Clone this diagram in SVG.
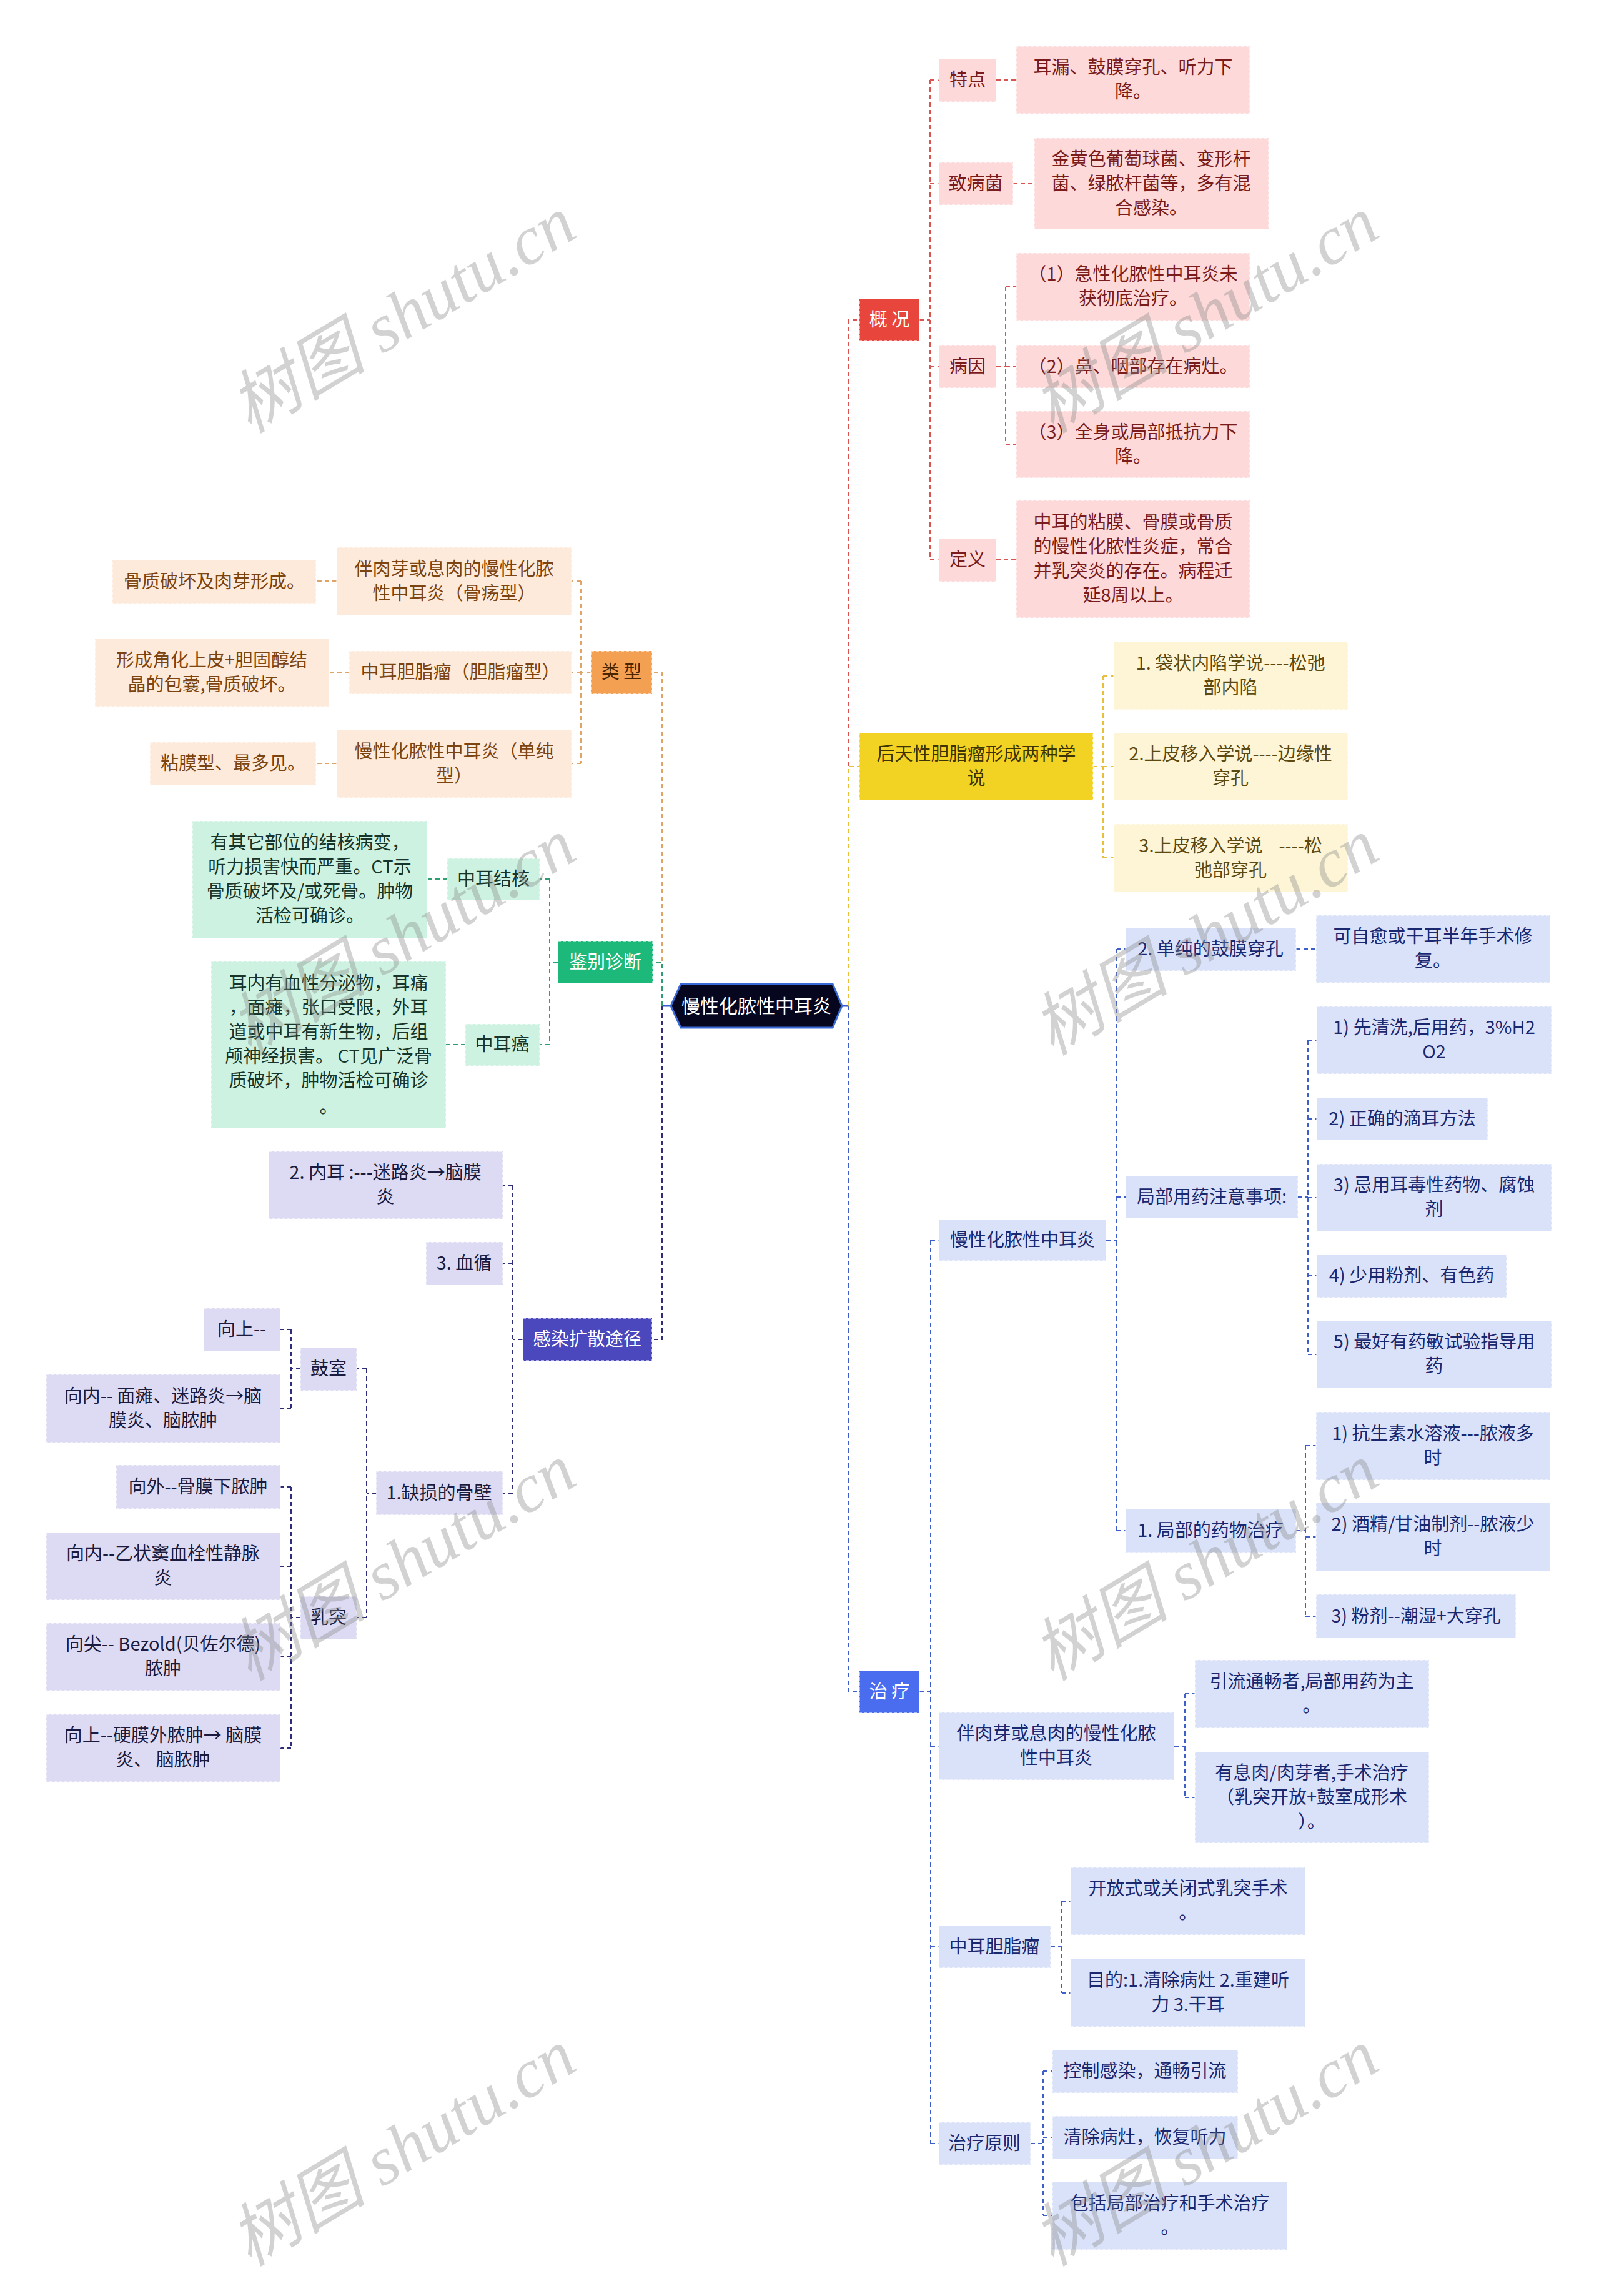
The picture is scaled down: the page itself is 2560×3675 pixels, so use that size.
<svg xmlns="http://www.w3.org/2000/svg" width="2560" height="3675" viewBox="0 0 2560 3675">
<style>
text{font-family:"Noto Sans CJK SC","Noto Sans",sans-serif;font-size:29px;text-anchor:middle}
.c{fill:none;stroke-width:2;stroke-dasharray:7 5}
.cr{stroke:#d9534f}.cy{stroke:#e8bf3a}.cb{stroke:#3f5fc8}.co{stroke:#e0a466}.cg{stroke:#2e9e72}.cn{stroke:#2d2d7a}
.solid{fill:none;stroke:#3a5ad0;stroke-width:3}
rect{stroke:#ffffff;stroke-opacity:.55;stroke-width:2;stroke-dasharray:5 3}
.fr{fill:#fdd9d9}.tr{fill:#7a1c1c}
.fy{fill:#fdf5d6}.ty{fill:#5c4a12}
.fb{fill:#dae2fa}.tb{fill:#1a2870}
.fo{fill:#fdeadb}.to{fill:#7c4410}
.fg{fill:#cdf2e1}.tg{fill:#17352a}
.fp{fill:#dcdbf3}.tp{fill:#1b1b40}
.tw{fill:#ffffff}
.wm{font-family:"Liberation Serif","Noto Sans CJK SC",serif;font-size:110px;font-style:italic;fill:#888;fill-opacity:.38;text-anchor:middle}
</style>
<rect x="0" y="0" width="2560" height="3675" fill="#ffffff" stroke="none"/>

<g id="connectors">
<path class="solid" d="M1348,1610 H1359 M1074,1610 H1060"/>
<path class="c cr" d="M1359,1610 V512 H1376"/>
<path class="c cr" d="M1472,512 H1489 M1489,128 V896 M1489,128 H1503 M1489,294 H1503 M1489,587 H1503 M1489,896 H1503"/>
<path class="c cr" d="M1595,128 H1627 M1622,294 H1656 M1595,896 H1627"/>
<path class="c cr" d="M1595,587 H1610 M1610,459 V711 M1610,459 H1627 M1610,587 H1627 M1610,711 H1627"/>
<path class="c cy" d="M1359,1610 V1227 H1376"/>
<path class="c cy" d="M1750,1227 H1766 M1766,1082 V1373 M1766,1082 H1783 M1766,1227 H1783 M1766,1373 H1783"/>
<path class="c cb" d="M1359,1610 V2708 H1376"/>
<path class="c cb" d="M1472,2708 H1490 M1490,1985 V3431 M1490,1985 H1503 M1490,2795 H1503 M1490,3116 H1503 M1490,3431 H1503"/>
<path class="c cb" d="M1771,1985 H1788 M1788,1519 V2450 M1788,1519 H1802 M1788,1916 H1802 M1788,2450 H1802"/>
<path class="c cb" d="M2075,1519 H2107"/>
<path class="c cb" d="M2078,1916 H2094 M2094,1665 V2168 M2094,1665 H2108 M2094,1791 H2108 M2094,1917 H2108 M2094,2042 H2108 M2094,2168 H2108"/>
<path class="c cb" d="M2075,2450 H2090 M2090,2314 V2587 M2090,2314 H2107 M2090,2460 H2107 M2090,2587 H2107"/>
<path class="c cb" d="M1880,2795 H1897 M1897,2711 V2877 M1897,2711 H1913 M1897,2877 H1913"/>
<path class="c cb" d="M1682,3116 H1700 M1700,3043 V3190 M1700,3043 H1714 M1700,3190 H1714"/>
<path class="c cb" d="M1650,3431 H1670 M1670,3315 V3546 M1670,3315 H1685 M1670,3421 H1685 M1670,3546 H1685"/>
<path class="c co" d="M1060,1610 V1076 H1044"/>
<path class="c co" d="M946,1076 H930 M930,930 V1222 M930,930 H915 M930,1076 H915 M930,1222 H915"/>
<path class="c co" d="M539,930 H506 M559,1076 H527 M539,1222 H506"/>
<path class="c cg" d="M1060,1610 V1540 H1045"/>
<path class="c cg" d="M893,1540 H880 M880,1407 V1672 M880,1407 H864 M880,1672 H864"/>
<path class="c cg" d="M716,1407 H684 M745,1672 H714"/>
<path class="c cn" d="M1060,1610 V2144 H1044"/>
<path class="c cn" d="M837,2144 H821 M821,1897 V2390 M821,1897 H805 M821,2022 H805 M821,2390 H805"/>
<path class="c cn" d="M602,2390 H587 M587,2191 V2589 M587,2191 H571 M587,2589 H571"/>
<path class="c cn" d="M481,2191 H466 M466,2128 V2254 M466,2128 H449 M466,2254 H449"/>
<path class="c cn" d="M481,2589 H466 M466,2380 V2798 M466,2380 H449 M466,2507 H449 M466,2652 H449 M466,2798 H449"/>
</g>

<g id="root">
<polygon points="1074,1610 1090,1575 1333,1575 1348,1610 1333,1645 1090,1645" fill="#06061e" stroke="#3a6ad8" stroke-width="3"/>
<text class="tw" x="1211" y="1621" style="font-size:30px">慢性化脓性中耳炎</text>
</g>

<g id="gaikuang"><rect x="1376" y="478" width="96" height="68" fill="#e8453c"/><text class="tw" x="1424" y="522">概 况</text></g>
<g id="tedian"><rect class="fr" x="1503" y="94" width="92" height="69"/><text class="tr" x="1549" y="138">特点</text></g>
<g id="erlou"><rect class="fr" x="1627" y="74" width="374" height="108"/><text class="tr" x="1814" y="118"><tspan x="1814">耳漏、鼓膜穿孔、听力下</tspan><tspan x="1814" dy="39">降。</tspan></text></g>
<g id="zhibingjun"><rect class="fr" x="1503" y="260" width="119" height="68"/><text class="tr" x="1562" y="304">致病菌</text></g>
<g id="jinhuang"><rect class="fr" x="1656" y="221" width="375" height="146"/><text class="tr" x="1843" y="265"><tspan x="1843">金黄色葡萄球菌、变形杆</tspan><tspan x="1843" dy="39">菌、绿脓杆菌等，多有混</tspan><tspan x="1843" dy="39">合感染。</tspan></text></g>
<g id="bingyin"><rect class="fr" x="1503" y="553" width="92" height="68"/><text class="tr" x="1549" y="597">病因</text></g>
<g id="by1"><rect class="fr" x="1627" y="405" width="374" height="108"/><text class="tr" x="1814" y="449"><tspan x="1814">（1）急性化脓性中耳炎未</tspan><tspan x="1814" dy="39">获彻底治疗。</tspan></text></g>
<g id="by2"><rect class="fr" x="1627" y="553" width="374" height="68"/><text class="tr" x="1814" y="597">（2）鼻、咽部存在病灶。</text></g>
<g id="by3"><rect class="fr" x="1627" y="658" width="374" height="107"/><text class="tr" x="1814" y="702"><tspan x="1814">（3）全身或局部抵抗力下</tspan><tspan x="1814" dy="39">降。</tspan></text></g>
<g id="dingyi"><rect class="fr" x="1503" y="862" width="92" height="69"/><text class="tr" x="1549" y="906">定义</text></g>
<g id="dingyi-text"><rect class="fr" x="1627" y="801" width="374" height="188"/><text class="tr" x="1814" y="846"><tspan x="1814">中耳的粘膜、骨膜或骨质</tspan><tspan x="1814" dy="39">的慢性化脓性炎症，常合</tspan><tspan x="1814" dy="39">并乳突炎的存在。病程迁</tspan><tspan x="1814" dy="39">延8周以上。</tspan></text></g>

<g id="houtian"><rect x="1376" y="1173" width="374" height="108" fill="#f2d223"/><text x="1563" y="1217" fill="#3d3305"><tspan x="1563">后天性胆脂瘤形成两种学</tspan><tspan x="1563" dy="39">说</tspan></text></g>
<g id="xs1"><rect class="fy" x="1783" y="1027" width="375" height="109"/><text class="ty" x="1970" y="1072"><tspan x="1970">1. 袋状内陷学说----松弛</tspan><tspan x="1970" dy="39">部内陷</tspan></text></g>
<g id="xs2"><rect class="fy" x="1783" y="1173" width="375" height="108"/><text class="ty" x="1970" y="1217"><tspan x="1970">2.上皮移入学说----边缘性</tspan><tspan x="1970" dy="39">穿孔</tspan></text></g>
<g id="xs3"><rect class="fy" x="1783" y="1319" width="375" height="109"/><text class="ty" x="1970" y="1364" style="white-space:pre"><tspan x="1970">3.上皮移入学说    ----松</tspan><tspan x="1970" dy="39">弛部穿孔</tspan></text></g>

<g id="zhiliao"><rect x="1376" y="2674" width="96" height="68" fill="#4a6df0"/><text class="tw" x="1424" y="2718">治 疗</text></g>
<g id="cs"><rect class="fb" x="1503" y="1952" width="268" height="66"/><text class="tb" x="1637" y="1995">慢性化脓性中耳炎</text></g>
<g id="dc"><rect class="fb" x="1802" y="1485" width="273" height="69"/><text class="tb" x="1938" y="1529">2. 单纯的鼓膜穿孔</text></g>
<g id="dc1"><rect class="fb" x="2107" y="1465" width="375" height="108"/><text class="tb" x="2294" y="1509"><tspan x="2294">可自愈或干耳半年手术修</tspan><tspan x="2294" dy="39">复。</tspan></text></g>
<g id="jb"><rect class="fb" x="1802" y="1882" width="276" height="68"/><text class="tb" x="1940" y="1926">局部用药注意事项:</text></g>
<g id="j1"><rect class="fb" x="2108" y="1611" width="376" height="108"/><text class="tb" x="2296" y="1655"><tspan x="2296">1) 先清洗,后用药，3%H2</tspan><tspan x="2296" dy="39">O2</tspan></text></g>
<g id="j2"><rect class="fb" x="2108" y="1757" width="274" height="68"/><text class="tb" x="2245" y="1801">2) 正确的滴耳方法</text></g>
<g id="j3"><rect class="fb" x="2108" y="1863" width="376" height="108"/><text class="tb" x="2296" y="1907"><tspan x="2296">3) 忌用耳毒性药物、腐蚀</tspan><tspan x="2296" dy="39">剂</tspan></text></g>
<g id="j4"><rect class="fb" x="2108" y="2008" width="304" height="69"/><text class="tb" x="2260" y="2052">4) 少用粉剂、有色药</text></g>
<g id="j5"><rect class="fb" x="2108" y="2114" width="376" height="108"/><text class="tb" x="2296" y="2158"><tspan x="2296">5) 最好有药敏试验指导用</tspan><tspan x="2296" dy="39">药</tspan></text></g>
<g id="yw"><rect class="fb" x="1802" y="2415" width="273" height="70"/><text class="tb" x="1938" y="2460">1. 局部的药物治疗</text></g>
<g id="yw1"><rect class="fb" x="2107" y="2260" width="375" height="109"/><text class="tb" x="2294" y="2305"><tspan x="2294">1) 抗生素水溶液---脓液多</tspan><tspan x="2294" dy="39">时</tspan></text></g>
<g id="yw2"><rect class="fb" x="2107" y="2405" width="375" height="110"/><text class="tb" x="2294" y="2450"><tspan x="2294">2) 酒精/甘油制剂--脓液少</tspan><tspan x="2294" dy="39">时</tspan></text></g>
<g id="yw3"><rect class="fb" x="2107" y="2552" width="320" height="70"/><text class="tb" x="2267" y="2597">3) 粉剂--潮湿+大穿孔</text></g>
<g id="br"><rect class="fb" x="1503" y="2741" width="377" height="108"/><text class="tb" x="1691" y="2785"><tspan x="1691">伴肉芽或息肉的慢性化脓</tspan><tspan x="1691" dy="39">性中耳炎</tspan></text></g>
<g id="br1"><rect class="fb" x="1913" y="2657" width="375" height="109"/><text class="tb" x="2100" y="2702"><tspan x="2100">引流通畅者,局部用药为主</tspan><tspan x="2100" dy="39">。</tspan></text></g>
<g id="br2"><rect class="fb" x="1913" y="2804" width="375" height="146"/><text class="tb" x="2100" y="2848"><tspan x="2100">有息肉/肉芽者,手术治疗</tspan><tspan x="2100" dy="39">（乳突开放+鼓室成形术</tspan><tspan x="2100" dy="39">）。</tspan></text></g>
<g id="dz"><rect class="fb" x="1503" y="3082" width="179" height="68"/><text class="tb" x="1592" y="3126">中耳胆脂瘤</text></g>
<g id="dz1"><rect class="fb" x="1714" y="2989" width="376" height="108"/><text class="tb" x="1902" y="3033"><tspan x="1902">开放式或关闭式乳突手术</tspan><tspan x="1902" dy="39">。</tspan></text></g>
<g id="dz2"><rect class="fb" x="1714" y="3135" width="376" height="109"/><text class="tb" x="1902" y="3180"><tspan x="1902">目的:1.清除病灶 2.重建听</tspan><tspan x="1902" dy="39">力 3.干耳</tspan></text></g>
<g id="yz"><rect class="fb" x="1503" y="3397" width="147" height="68"/><text class="tb" x="1576" y="3441">治疗原则</text></g>
<g id="yz1"><rect class="fb" x="1685" y="3281" width="297" height="69"/><text class="tb" x="1833" y="3325">控制感染，通畅引流</text></g>
<g id="yz2"><rect class="fb" x="1685" y="3387" width="297" height="69"/><text class="tb" x="1833" y="3431">清除病灶，恢复听力</text></g>
<g id="yz3"><rect class="fb" x="1685" y="3492" width="376" height="109"/><text class="tb" x="1873" y="3537"><tspan x="1873">包括局部治疗和手术治疗</tspan><tspan x="1873" dy="39">。</tspan></text></g>

<g id="leixing"><rect x="946" y="1042" width="98" height="69" fill="#f3a052"/><text x="995" y="1086" fill="#4a2500">类 型</text></g>
<g id="o1"><rect class="fo" x="539" y="876" width="376" height="109"/><text class="to" x="727" y="921"><tspan x="727">伴肉芽或息肉的慢性化脓</tspan><tspan x="727" dy="39">性中耳炎（骨疡型）</tspan></text></g>
<g id="o1c"><rect class="fo" x="180" y="896" width="326" height="70"/><text class="to" x="343" y="941">骨质破坏及肉芽形成。</text></g>
<g id="o2"><rect class="fo" x="559" y="1042" width="356" height="69"/><text class="to" x="737" y="1086">中耳胆脂瘤（胆脂瘤型）</text></g>
<g id="o2c"><rect class="fo" x="152" y="1022" width="375" height="109"/><text class="to" x="339" y="1067"><tspan x="339">形成角化上皮+胆固醇结</tspan><tspan x="339" dy="39">晶的包囊,骨质破坏。</tspan></text></g>
<g id="o3"><rect class="fo" x="539" y="1168" width="376" height="109"/><text class="to" x="727" y="1213"><tspan x="727">慢性化脓性中耳炎（单纯</tspan><tspan x="727" dy="39">型）</tspan></text></g>
<g id="o3c"><rect class="fo" x="240" y="1188" width="266" height="69"/><text class="to" x="373" y="1232">粘膜型、最多见。</text></g>

<g id="jianbie"><rect x="893" y="1506" width="152" height="68" fill="#1db97a"/><text class="tw" x="969" y="1550">鉴别诊断</text></g>
<g id="g1"><rect class="fg" x="716" y="1374" width="148" height="67"/><text class="tg" x="790" y="1417">中耳结核</text></g>
<g id="g1c"><rect class="fg" x="308" y="1314" width="376" height="188"/><text class="tg" x="496" y="1359"><tspan x="496">有其它部位的结核病变，</tspan><tspan x="496" dy="39">听力损害快而严重。CT示</tspan><tspan x="496" dy="39">骨质破坏及/或死骨。肿物</tspan><tspan x="496" dy="39">活检可确诊。</tspan></text></g>
<g id="g2"><rect class="fg" x="745" y="1639" width="119" height="67"/><text class="tg" x="804" y="1682">中耳癌</text></g>
<g id="g2c"><rect class="fg" x="338" y="1538" width="376" height="268"/><text class="tg" x="526" y="1584"><tspan x="526">耳内有血性分泌物，耳痛</tspan><tspan x="526" dy="39">，面瘫，张口受限，外耳</tspan><tspan x="526" dy="39">道或中耳有新生物，后组</tspan><tspan x="526" dy="39">颅神经损害。 CT见广泛骨</tspan><tspan x="526" dy="39">质破坏，肿物活检可确诊</tspan><tspan x="526" dy="42">。</tspan></text></g>

<g id="ganran"><rect x="837" y="2110" width="207" height="68" fill="#4b47bd"/><text class="tw" x="940" y="2154">感染扩散途径</text></g>
<g id="p-neier"><rect class="fp" x="430" y="1843" width="375" height="108"/><text class="tp" x="617" y="1887"><tspan x="617">2. 内耳 :---迷路炎→脑膜</tspan><tspan x="617" dy="39">炎</tspan></text></g>
<g id="p-xuexun"><rect class="fp" x="682" y="1988" width="123" height="69"/><text class="tp" x="743" y="2032">3. 血循</text></g>
<g id="p-qs"><rect class="fp" x="602" y="2355" width="203" height="70"/><text class="tp" x="703" y="2400">1.缺损的骨壁</text></g>
<g id="p-gushi"><rect class="fp" x="481" y="2157" width="90" height="69"/><text class="tp" x="526" y="2201">鼓室</text></g>
<g id="p-gs1"><rect class="fp" x="326" y="2094" width="123" height="69"/><text class="tp" x="387" y="2138">向上--</text></g>
<g id="p-gs2"><rect class="fp" x="74" y="2200" width="375" height="109"/><text class="tp" x="261" y="2245"><tspan x="261">向内-- 面瘫、迷路炎→脑</tspan><tspan x="261" dy="39">膜炎、脑脓肿</tspan></text></g>
<g id="p-rutu"><rect class="fp" x="481" y="2555" width="90" height="69"/><text class="tp" x="526" y="2599">乳突</text></g>
<g id="p-rt1"><rect class="fp" x="186" y="2345" width="263" height="70"/><text class="tp" x="317" y="2390">向外--骨膜下脓肿</text></g>
<g id="p-rt2"><rect class="fp" x="74" y="2453" width="375" height="108"/><text class="tp" x="261" y="2497"><tspan x="261">向内--乙状窦血栓性静脉</tspan><tspan x="261" dy="39">炎</tspan></text></g>
<g id="p-rt3"><rect class="fp" x="74" y="2598" width="375" height="108"/><text class="tp" x="261" y="2642"><tspan x="261">向尖-- Bezold(贝佐尔德)</tspan><tspan x="261" dy="39">脓肿</tspan></text></g>
<g id="p-rt4"><rect class="fp" x="74" y="2744" width="375" height="108"/><text class="tp" x="261" y="2788" style="white-space:pre"><tspan x="261">向上--硬膜外脓肿→ 脑膜</tspan><tspan x="261" dy="39">炎、 脑脓肿</tspan></text></g>

<g id="watermarks">
<text class="wm" x="649" y="540" transform="rotate(-31 649 511)">树图 shutu.cn</text>
<text class="wm" x="1934" y="540" transform="rotate(-31 1934 511)">树图 shutu.cn</text>
<text class="wm" x="649" y="1536" transform="rotate(-31 649 1507)">树图 shutu.cn</text>
<text class="wm" x="1934" y="1536" transform="rotate(-31 1934 1507)">树图 shutu.cn</text>
<text class="wm" x="649" y="2537" transform="rotate(-31 649 2508)">树图 shutu.cn</text>
<text class="wm" x="1934" y="2537" transform="rotate(-31 1934 2508)">树图 shutu.cn</text>
<text class="wm" x="649" y="3474" transform="rotate(-31 649 3445)">树图 shutu.cn</text>
<text class="wm" x="1934" y="3474" transform="rotate(-31 1934 3445)">树图 shutu.cn</text>
</g>
</svg>
